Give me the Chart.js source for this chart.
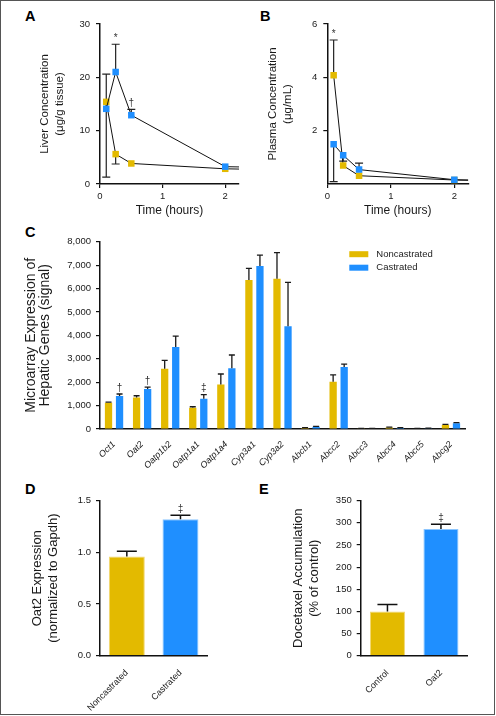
<!DOCTYPE html>
<html>
<head>
<meta charset="utf-8">
<script src="https://cdn.jsdelivr.net/npm/chart.js@4.4.0/dist/chart.umd.min.js"></script>
<style>
body { margin: 0; background: #fff; }
#frame { position: absolute; left: 0; top: 0; width: 495px; height: 715px; border: 1.5px solid #555; box-sizing: border-box; }
.box { position: absolute; }
.lbl { position: absolute; font: bold 14.5px "Liberation Sans", Arial, sans-serif; line-height: 14px; }
</style>
</head>
<body>
<div id="frame"></div>
<div class="lbl" style="left:25px;top:9px">A</div>
<div class="lbl" style="left:260px;top:9px">B</div>
<div class="lbl" style="left:25px;top:225px">C</div>
<div class="lbl" style="left:25px;top:482px">D</div>
<div class="lbl" style="left:259px;top:482px">E</div>
<div class="box" style="left:0;top:0;width:248px;height:225px"><canvas id="chartA"></canvas></div>
<div class="box" style="left:245px;top:0;width:248px;height:225px"><canvas id="chartB"></canvas></div>
<div class="box" style="left:0;top:225px;width:496px;height:265px"><canvas id="chartC"></canvas></div>
<div class="box" style="left:0;top:490px;width:245px;height:225px"><canvas id="chartD"></canvas></div>
<div class="box" style="left:245px;top:490px;width:248px;height:225px"><canvas id="chartE"></canvas></div>
<script>
// panel A / B : time course
var timesAB = [0.1, 0.25, 0.5, 2, 2.22];
var timeTicks = [0, 1, 2];

var liverNon = [15.4, 5.6, 3.85, 2.85, 2.8];
var liverCas = [14.1, 21.0, 12.9, 3.25, 3.2];
var liverNonLo = [1.3, 3.75, null, null, null];
var liverCasHi = [20.6, 26.2, 14.0, null, null];
var liverCasMarks = [null, '*', '\u2020', null, null];
var liverTicks = [0, 10, 20, 30];

var plasmaNon = [4.08, 0.69, 0.31, 0.15, 0.14];
var plasmaCas = [1.49, 1.08, 0.54, 0.16, 0.15];
var plasmaNonHi = [5.4, null, null, null, null];
var plasmaCasLo = [0.09, 0.86, null, null, null];
var plasmaCasHi = [null, null, 0.78, null, null];
var plasmaNonMarks = ['*', null, null, null, null];
var plasmaTicks = [2, 4, 6];

// panel C : microarray
var genes = ['Oct1', 'Oat2', 'Oatp1b2', 'Oatp1a1', 'Oatp1a4', 'Cyp3a1', 'Cyp3a2', 'Abcb1', 'Abcc2', 'Abcc3', 'Abcc4', 'Abcc5', 'Abcg2'];
var geneNon = [1120, 1350, 2575, 910, 1905, 6360, 6420, 45, 2020, 15, 60, 20, 170];
var geneNonHi = [1150, 1420, 2930, 950, 2350, 6860, 7530, 60, 2310, 25, 80, 30, 200];
var geneCas = [1410, 1710, 3500, 1295, 2590, 6960, 4385, 95, 2645, 20, 45, 30, 245];
var geneCasHi = [1495, 1790, 3970, 1465, 3160, 7430, 6265, 115, 2775, 30, 60, 40, 275];
var geneCasMarks = ['\u2020', '\u2020', null, '\u2021', null, null, null, null, null, null, null, null, null];

// panel D / E
var dLabels = ['Noncastrated', 'Castrated'];
var dValues = [0.96, 1.32];
var dHi = [1.01, 1.36];
var dMarks = [null, '\u2021'];
var eLabels = ['Control', 'Oat2'];
var eValues = [100, 286];
var eHi = [115.6, 297];
var eMarks = [null, '\u2021'];

var YEL = '#E3BA00', BLU = '#1F8FFF';
var SANS = '"Liberation Sans", Arial, sans-serif';
Chart.defaults.font.family = SANS;
Chart.defaults.color = '#1a1a1a';

function xy(xs, ys) { return xs.map(function (x, i) { return { x: x, y: ys[i] }; }); }

function drawErrors(chart, o) {
  var ctx = chart.ctx, ys = chart.scales.y;
  chart.data.datasets.forEach(function (ds, d) {
    var meta = chart.getDatasetMeta(d);
    meta.data.forEach(function (el, i) {
      var hi = ds.errHi ? ds.errHi[i] : null;
      var lo = ds.errLo ? ds.errLo[i] : null;
      ctx.save();
      ctx.strokeStyle = o.color || '#222';
      ctx.lineWidth = o.width || 1;
      [hi, lo].forEach(function (v) {
        if (v == null) return;
        var py = ys.getPixelForValue(v);
        ctx.beginPath();
        ctx.moveTo(el.x, el.y); ctx.lineTo(el.x, py);
        ctx.moveTo(el.x - o.cap / 2, py); ctx.lineTo(el.x + o.cap / 2, py);
        ctx.stroke();
      });
      var m = ds.marks ? ds.marks[i] : null;
      if (m) {
        var top = hi != null ? ys.getPixelForValue(hi) : el.y;
        ctx.fillStyle = '#333';
        ctx.font = (o.markSize || 10) + 'px ' + SANS;
        ctx.textAlign = 'center';
        ctx.textBaseline = 'bottom';
        ctx.fillText(m, el.x, top - 1);
      }
      ctx.restore();
    });
  });
}

var errorBars = {
  id: 'errorBars',
  beforeDatasetsDraw: function (chart, args, o) { if (o.under) drawErrors(chart, o); },
  afterDatasetsDraw: function (chart, args, o) { if (!o.under) drawErrors(chart, o); }
};

var boxLegend = {
  id: 'boxLegend',
  afterDraw: function (chart, args, o) {
    if (!o.show) return;
    var ctx = chart.ctx, a = chart.chartArea;
    chart.data.datasets.forEach(function (ds, i) {
      var x = a.right - o.dx, y = a.top + o.dy + i * 13.5;
      ctx.save();
      ctx.fillStyle = ds.backgroundColor;
      ctx.fillRect(x, y - 3, 19, 6);
      ctx.fillStyle = '#222';
      ctx.font = '9.5px ' + SANS;
      ctx.textBaseline = 'middle';
      ctx.fillText(ds.label, x + 27, y);
      ctx.restore();
    });
  }
};

function axisStyle() {
  return {
    grid: { display: true, drawOnChartArea: false, drawTicks: true, tickLength: 4, color: '#111', lineWidth: 1.2 },
    border: { display: true, color: '#111', width: 1.5 }
  };
}

function lineChart(id, d) {
  var ax = axisStyle(), ay = axisStyle();
  return new Chart(document.getElementById(id), {
    type: 'line',
    data: {
      datasets: [{
        label: 'Noncastrated', data: xy(timesAB, d.non), errHi: d.nonHi, errLo: d.nonLo, marks: d.nonMarks,
        borderColor: '#111', borderWidth: 1, pointStyle: 'rect', pointRadius: [4.6, 4.6, 4.6, 4.6, 0],
        pointBackgroundColor: YEL, pointBorderColor: YEL, pointBorderWidth: 0, order: 1
      }, {
        label: 'Castrated', data: xy(timesAB, d.cas), errHi: d.casHi, errLo: d.casLo, marks: d.casMarks,
        borderColor: '#111', borderWidth: 1, pointStyle: 'rect', pointRadius: [4.6, 4.6, 4.6, 4.6, 0],
        pointBackgroundColor: BLU, pointBorderColor: BLU, pointBorderWidth: 0, order: 0
      }]
    },
    options: {
      animation: false, responsive: true, maintainAspectRatio: false,
      layout: { padding: { left: 0, top: 24, right: d.right, bottom: 0 } },
      plugins: {
        legend: { display: false }, tooltip: { enabled: false },
        errorBars: { under: true, cap: 8, color: '#222', width: 1.2, markSize: 10 }
      },
      scales: {
        x: {
          type: 'linear', min: 0, max: 2.22,
          afterBuildTicks: function (s) { s.ticks = timeTicks.map(function (v) { return { value: v }; }); },
          afterFit: function (s) { s.height = 41; },
          grid: ax.grid, border: ax.border,
          ticks: { font: { size: 9.5 }, padding: 3, maxRotation: 0 },
          title: { display: true, text: 'Time (hours)', font: { size: 12, lineHeight: 1.2 }, padding: { bottom: 7.5 } }
        },
        y: {
          min: 0, max: d.max,
          afterBuildTicks: function (s) { s.ticks = d.ticks.map(function (v) { return { value: v }; }); },
          afterFit: function (s) { s.width = d.yw; },
          grid: ay.grid, border: ay.border,
          ticks: { font: { size: 9.5 }, padding: 6 },
          title: { display: true, text: d.title, font: { size: 11.5, lineHeight: 1.3 }, padding: { top: d.tp } }
        }
      }
    },
    plugins: [errorBars]
  });
}

lineChart('chartA', {
  non: liverNon, cas: liverCas, nonLo: liverNonLo, casHi: liverCasHi, casMarks: liverCasMarks,
  max: 30, ticks: liverTicks, yw: 100, right: 9, tp: 37.5,
  title: ['Liver Concentration', '(\u03bcg/g tissue)']
});

lineChart('chartB', {
  non: plasmaNon, cas: plasmaCas, nonHi: plasmaNonHi, casLo: plasmaCasLo, casHi: plasmaCasHi, nonMarks: plasmaNonMarks,
  max: 6, ticks: plasmaTicks, yw: 82.3, right: 24.7, tp: 20,
  title: ['Plasma Concentration', '(\u03bcg/mL)']
});

var cx = axisStyle(), cy = axisStyle();
new Chart(document.getElementById('chartC'), {
  type: 'bar',
  data: {
    labels: genes,
    datasets: [
      { label: 'Noncastrated', data: geneNon, errHi: geneNonHi, backgroundColor: YEL, categoryPercentage: 0.786, barPercentage: 0.66 },
      { label: 'Castrated', data: geneCas, errHi: geneCasHi, marks: geneCasMarks, backgroundColor: BLU, categoryPercentage: 0.786, barPercentage: 0.66 }
    ]
  },
  options: {
    animation: false, responsive: true, maintainAspectRatio: false,
    layout: { padding: { left: 0, top: 16.7, right: 31, bottom: 0 } },
    plugins: {
      legend: { display: false }, tooltip: { enabled: false },
      errorBars: { under: false, cap: 6, color: '#1a1a1a', width: 1.3, markSize: 10 },
      boxLegend: { show: true, dx: 115.7, dy: 12.5 }
    },
    scales: {
      x: {
        afterFit: function (s) { s.height = 61; },
        grid: { display: false }, border: cx.border,
        ticks: { font: { size: 9, style: 'italic' }, minRotation: 45, maxRotation: 45, padding: 2 }
      },
      y: {
        min: 0, max: 8000,
        ticks: { stepSize: 1000, font: { size: 9.5 }, padding: 5 },
        afterFit: function (s) { s.width = 100; },
        grid: cy.grid, border: cy.border,
        title: { display: true, text: ['Microarray Expression of', 'Hepatic Genes (signal)'], font: { size: 14, lineHeight: 1.05 }, padding: { top: 23.5 } }
      }
    }
  },
  plugins: [errorBars, boxLegend]
});

function smallBar(id, d) {
  var ax = axisStyle(), ay = axisStyle();
  return new Chart(document.getElementById(id), {
    type: 'bar',
    data: {
      labels: d.labels,
      datasets: [{
        data: d.values, errHi: d.hi, marks: d.marks,
        backgroundColor: [YEL, BLU], borderColor: ['#F2D770', '#8CC6FF'], borderWidth: 1,
        categoryPercentage: 1, barPercentage: d.bp
      }]
    },
    options: {
      animation: false, responsive: true, maintainAspectRatio: false,
      layout: { padding: { left: 0, top: d.top, right: d.right, bottom: 0 } },
      plugins: {
        legend: { display: false }, tooltip: { enabled: false },
        errorBars: { under: false, cap: 20, color: '#111', width: 1.5, markSize: 10 }
      },
      scales: {
        x: {
          afterFit: function (s) { s.height = 59.3; },
          grid: { display: false }, border: ax.border,
          ticks: { font: { size: 9 }, minRotation: 45, maxRotation: 45, padding: 4 }
        },
        y: {
          min: 0, max: d.max,
          ticks: { stepSize: d.step, font: { size: 9.5 }, padding: 5, callback: d.fmt },
          afterFit: function (s) { s.width = d.yw; },
          grid: ay.grid, border: ay.border,
          title: { display: true, text: d.title, font: { size: 13, lineHeight: 1.23 }, padding: { top: d.tp } }
        }
      }
    },
    plugins: [errorBars]
  });
}

smallBar('chartD', {
  labels: dLabels, values: dValues, hi: dHi, marks: dMarks, bp: 0.67,
  top: 9, right: 37.7, yw: 100, max: 1.5, step: 0.5, tp: 29,
  fmt: function (v) { return v.toFixed(1); },
  title: ['Oat2 Expression', '(normalized to Gapdh)']
});

smallBar('chartE', {
  labels: eLabels, values: eValues, hi: eHi, marks: eMarks, bp: 0.655,
  top: 10, right: 25.3, yw: 115.7, max: 350, step: 50, tp: 45.3,
  fmt: function (v) { return v; },
  title: ['Docetaxel Accumulation', '(% of control)']
});
</script>
</body>
</html>
